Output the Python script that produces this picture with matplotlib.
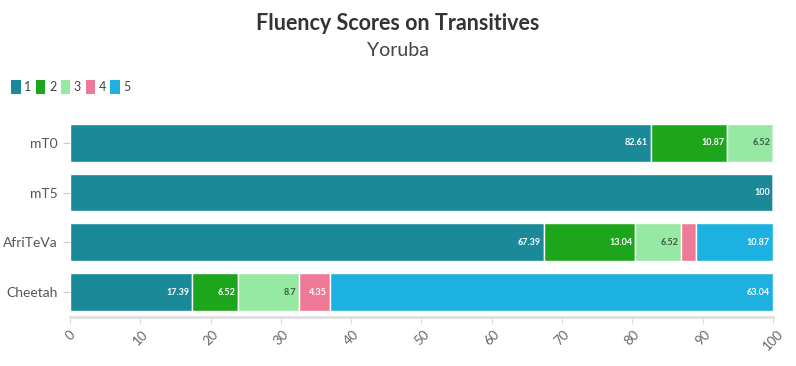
import matplotlib.pyplot as plt
from matplotlib.patches import Patch

# --- data ---
models = ["mT0", "mT5", "AfriTeVa", "Cheetah"]
score_levels = ["1", "2", "3", "4", "5"]
score_1 = [82.61, 100, 67.39, 17.39]
score_2 = [10.87, 0, 13.04, 6.52]
score_3 = [6.52, 0, 6.52, 8.7]
score_4 = [0, 0, 2.17, 4.35]
score_5 = [0, 0, 10.87, 63.04]
x_ticks = [0, 10, 20, 30, 40, 50, 60, 70, 80, 90, 100]

series = [score_1, score_2, score_3, score_4, score_5]
colors = ["#1a8a99", "#1da51c", "#95e9a2", "#ee7a98", "#1db1e1"]
text_colors = ["white", "white", "#3d5a40", "white", "white"]

plt.rcParams['font.family'] = ['Lato', 'DejaVu Sans']

fig = plt.figure(figsize=(7.96, 3.66), dpi=100)
ax = fig.add_axes([0.088, 0.134, 0.883, 0.544])

ypos = list(range(len(models)))
left = [0.0] * len(models)
for vals, col, tcol in zip(series, colors, text_colors):
    bars = ax.barh(ypos, vals, left=left, height=0.76, color=col,
                   edgecolor="white", linewidth=1)
    for i, v in enumerate(vals):
        if v > 3:
            ax.text(left[i] + v - 0.4, ypos[i], f"{v:g}", ha="right", va="center",
                    fontsize=6.5, fontweight="bold", color=tcol)
    left = [l + v for l, v in zip(left, vals)]

ax.set_ylim(len(models) - 0.5, -0.5)
ax.set_xlim(0, 100)
ax.set_yticks(ypos)
ax.set_yticklabels(models, fontsize=10, color="#555555")
ax.set_xticks(x_ticks)
ax.set_xticklabels([str(t) for t in x_ticks], rotation=45, fontsize=9.5, color="#666666")
ax.tick_params(axis="y", length=5, color="#cccccc", pad=4)
ax.tick_params(axis="x", length=5, color="#dddddd", pad=3)

for s in ["top", "right", "left"]:
    ax.spines[s].set_visible(False)
ax.spines["bottom"].set_color("#e0e0e0")
ax.spines["bottom"].set_linewidth(2)

fig.text(0.5, 0.935, "Fluency Scores on Transitives", ha="center", va="center",
         fontsize=15.5, fontweight="bold", color="#333333")
fig.text(0.5, 0.862, "Yoruba", ha="center", va="center", fontsize=14, color="#444444")

handles = [Patch(facecolor=c, edgecolor="none", label=l) for c, l in zip(colors, score_levels)]
fig.legend(handles=handles, loc="center left", bbox_to_anchor=(0.0, 0.762), ncol=5,
           frameon=False, fontsize=9, handlelength=0.75, handleheight=1.4,
           handletextpad=0.3, columnspacing=0.35, labelcolor="#444444")

fig.savefig("out.png", dpi=100)
